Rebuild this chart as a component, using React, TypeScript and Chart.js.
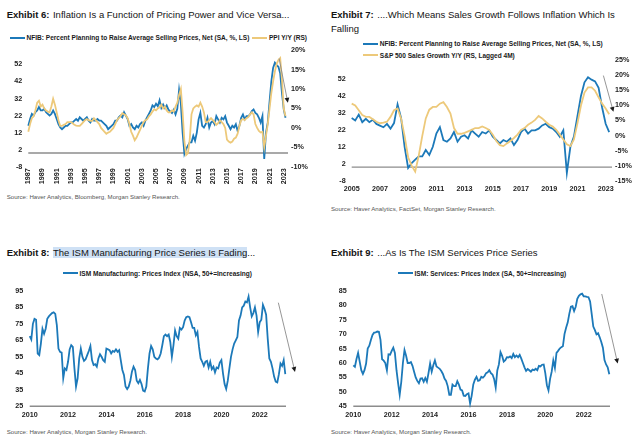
import React, { useEffect, useRef } from 'react';
import { Chart, registerables } from 'chart.js';

Chart.register(...registerables);

// ---------------- DATA ----------------
// Exhibit 6 / 7 : NFIB net % planning to raise prices (quarterly, from 1987 Q1)
const NFIB_START = 1987;
const QUARTER = 0.25;
const nfibNetPlanning = [
  16, 20, 23, 22,
  24, 25, 27, 25,
  25, 26, 24, 23,
  22, 23, 25, 23,
  20, 17, 15, 14,
  15, 16, 16, 17,
  18, 18, 19, 20,
  19, 21, 20, 19,
  20, 21, 19, 18,
  20, 19, 19, 20,
  19, 19, 18, 17,
  16, 14, 15, 16,
  17, 19, 19, 21,
  22, 21, 24, 22,
  20, 16, 17, 15,
  14, 16, 15, 17,
  18, 16, 19, 21,
  23, 25, 28, 27,
  29, 27.5, 31, 26.5,
  28.5, 26.5, 28, 25.5,
  24.5, 23.5, 25.5, 22.7,
  26, 37, 29, 12,
  -0.5, 2.4, 4.4, 6.3,
  6.3, 10.1, 7.2, 12,
  19.8, 23.6, 16, 15,
  16.9, 20.7, 15, 17.9,
  18.8, 16.9, 21.7, 19.8,
  17.9, 20.7, 19.8, 21.7,
  17.9, 16, 14, 16,
  15, 16.9, 13, 16,
  20.7, 22.7, 19.8, 21.7,
  21.7, 22.7, 24.6, 25.6,
  23.6, 22.7, 20.7, 17.9,
  21.7, -3.4, 12, 18,
  30, 42, 50, 53,
  51.6, 50.6, 46.8, 35.2,
  25.6, 20.7,
];

// Exhibit 6 : PPI Y/Y % (quarterly, from 1987 Q1)
const ppiYoY = [
  -1.0, 1.0, 2.5, 3.0,
  4.5, 6.5, 7.0, 5.5,
  6.0, 5.0, 4.5, 4.2,
  4.0, 5.5, 7.5, 6.0,
  4.0, 2.0, 0.5, 0.5,
  0.8, 1.0, 1.5, 1.5,
  1.5, 1.2, 0.8, 0.6,
  0.5, 0.5, 1.0, 1.5,
  2.0, 2.3, 2.0, 1.8,
  1.8, 2.5, 2.0, 1.5,
  1.0, 0.0, -0.5, -1.0,
  -1.5, -1.2, -1.0, -0.5,
  0.0, 1.0, 2.0, 2.5,
  3.0, 3.8, 3.5, 3.2,
  2.5, 1.0, -1.0, -2.0,
  -3.2, -2.5, -1.5, -0.5,
  0.5, 1.5, 2.0, 2.2,
  3.0, 3.5, 4.2, 4.8,
  4.5, 5.0, 5.3, 6.0,
  5.0, 5.5, 4.5, 4.0,
  4.0, 4.5, 4.2, 5.5,
  6.5, 8.5, 10.0, 4.0,
  -3.5, -7.0, -6.5, -3.0,
  3.5, 5.0, 5.5, 5.8,
  5.5, 6.5, 5.5, 4.0,
  1.5, 1.5, 2.0, 2.5,
  2.0, 1.5, 0.8, 1.2,
  2.0, 1.5, 1.0, 0.0,
  -3.0, -3.5, -3.8, -3.5,
  -2.8, -2.5, -1.5, 0.5,
  2.0, 2.3, 2.0, 2.5,
  2.8, 3.5, 4.0, 3.5,
  1.0, 0.0, -0.8, -1.2,
  -1.0, -5.0, -2.0, 1.0,
  5.0, 9.0, 12.0, 14.5,
  16.5, 17.5, 18.0, 12.5,
  5.0, 3.0,
];

// Exhibit 7 : S&P 500 sales growth Y/Y % (lagged 4M, quarterly from 2005 Q1)
const SALES_START = 2005;
const sp500SalesGrowth = [
  10.6, 10, 8.4, 6.8,
  6.2, 6.2, 5.4, 4.6,
  4.1, 4.3, 4.6, 6.2,
  8.4, 9, 5.7, -0.2,
  -7.2, -10, -12, -6.7,
  -0.2, 5.7, 8.6, 9.5,
  9.5, 10.6, 11.1, 9.5,
  7.3, 2.5, 0.6, 0.6,
  0.9, 1.4, 1.9, 2.5,
  2.5, 3, 2.5, 1.9,
  0.3, -1.8, -3.2, -3.5,
  -2.6, -1.8, -0.8, 0.3,
  1.9, 2.5, 3.6, 4.3,
  5.2, 6.5, 5.7, 4.6,
  3.6, 3, 1.9, 0.3,
  -1.3, -2.9, -3.5, -1.3,
  4.1, 10, 14.3, 16,
  16, 14.9, 12.7, 10.6,
  9, 7.1,
];

// Exhibit 8 / 9 : ISM price indices (monthly from Jan 2010)
const ISM_START = 2010;
const MONTH = 1 / 12;
const ismMfgPrices = [
  67.5, 65.5, 75, 78, 77.5, 57, 56, 63, 72, 69, 72, 78,
  79.5, 80.5, 81.5, 82, 81, 74, 60, 58, 57.5, 42, 48, 47,
  52, 59.5, 62, 61, 48, 37, 42, 54, 60, 55, 52.5, 53.5,
  56, 58.5, 61.5, 53, 50, 50.5, 49, 54, 56.5, 55, 53, 52,
  60, 59.5, 59, 57, 58.5, 58, 59.5, 58, 59, 53, 47, 44,
  37, 35.5, 37, 40.5, 46, 49, 47, 40.5, 39, 41, 38.5, 34.5,
  34, 37, 48, 57, 61.5, 59.5, 55, 54, 53.5, 54.5, 57, 62,
  67.5, 68.5, 67.5, 68.5, 64, 55, 62, 71, 67.5, 66, 72.5, 71.5,
  73, 77, 79, 79.5, 79, 76, 72.5, 72.5, 68, 70, 61, 54,
  52, 49.5, 52, 52.5, 48.5, 52, 47.5, 49, 45.5, 48.5, 48, 51.5,
  53, 45, 38.5, 35.5, 40.5, 48, 55, 59.5, 63, 65, 67, 77,
  80, 85, 86, 88.5, 88, 91.5, 85, 79.5, 81.5, 85, 80, 70,
  76, 77.5, 86.5, 84, 80.5, 66, 54, 52, 48, 43, 40, 39.5,
  44.5, 51, 49.5, 53, 44.5,
];
const ismSvcPrices = [
  59.2, 58.7, 61.4, 63.5, 60.5, 57.5, 56.2, 57.5, 59.8, 65, 66, 68,
  69.7, 70.5, 70.6, 70.9, 70.8, 68, 61.3, 60.8, 60, 57.5, 63, 62.9,
  64.2, 65.3, 63.5, 57.5, 53, 49, 53.5, 60, 64.5, 62.5, 60, 60,
  60.3, 59, 57, 55, 53.8, 53, 54.6, 54.7, 53.5, 54.8, 53.5, 56.5,
  59.8, 57, 59.2, 60.9, 58.8, 58.4, 58, 57.2, 56.2, 54.6, 53.8, 52,
  49, 49, 52.5, 52, 52, 53.7, 52.5, 50.8, 50.5, 48.7, 48.6, 49.2,
  49.5, 46, 48.7, 52.6, 54.2, 55.2, 53.8, 54, 55.2, 54.9, 55.5, 56.5,
  56.8, 57.5, 56.5, 56, 54.5, 51.5, 57.4, 59.5, 63.8, 62.5, 60.5, 61,
  62, 61.9, 62.3, 61.7, 63.1, 62, 62.6, 62, 62.8, 61.5, 60, 58.5,
  57.3, 57.9, 57.5, 57, 57.7, 57.5, 58, 57.5, 59, 58.8, 59.4, 59.5,
  56.5, 52.3, 50.5, 54.5, 57, 60.9, 58.3, 63.5, 64.2, 65, 65.5, 65.8,
  70, 72.2, 74, 77, 79.5, 79.7, 78, 79.5, 82.2, 83.3, 83.8, 84,
  83.1, 83.1, 82.9, 82.8, 81.3, 77, 72.6, 71.4, 69.9, 70.3, 68.9, 67.3,
  65.3, 61, 59.5, 58.5, 56.1,
];

// tick labels
const ex6YearTicks = [1987, 1989, 1991, 1993, 1995, 1997, 1999, 2001, 2003, 2005, 2007, 2009, 2011, 2013, 2015, 2017, 2019, 2021, 2023];
const nfibAxisTicks = [-8, 2, 12, 22, 32, 42, 52];
const ppiAxisTicks = [-10, -5, 0, 5, 10, 15, 20];
const ex7YearTicks = [2005, 2007, 2009, 2011, 2013, 2015, 2017, 2019, 2021, 2023];
const salesAxisTicks = [-15, -10, -5, 0, 5, 10, 15, 20, 25];
const ismYearTicks = [2010, 2012, 2014, 2016, 2018, 2020, 2022];
const ismMfgTicks = [25, 35, 45, 55, 65, 75, 85, 95];
const ismSvcTicks = [45, 50, 55, 60, 65, 70, 75, 80, 85];

// ---------------- STYLE ----------------
const BLUE = '#1c79b9';
const GOLD = '#edc97a';
const FONT = "'Liberation Sans', Arial, Helvetica, sans-serif";
const TICK_FONT: any = { family: FONT, size: 7.2, weight: 'bold' };
const TICK_COLOR = '#222';

const toPoints = (vals: number[], start: number, step: number) =>
  vals.map((v, i) => ({ x: start + i * step, y: v }));

const fixedTicks = (vals: number[]) => (scale: any) => {
  scale.ticks = vals.map((v) => ({ value: v }));
};

function axis(extra: any) {
  const { width, height, ticksOpt, ticks, ...rest } = extra;
  return {
    grid: { display: false, drawTicks: false },
    border: { display: false },
    afterBuildTicks: fixedTicks(ticks),
    afterFit: (s: any) => {
      if (width !== undefined) s.width = width;
      if (height !== undefined) s.height = height;
    },
    ticks: { font: TICK_FONT, color: TICK_COLOR, autoSkip: false, ...ticksOpt },
    ...rest,
  };
}

const decorations = {
  id: 'decorations',
  beforeDatasetsDraw(chart: any, _a: any, opts: any) {
    const ref = opts && opts.ref;
    if (!ref) return;
    const y = chart.scales[ref.axis].getPixelForValue(ref.value);
    const { left, right } = chart.chartArea;
    const ctx = chart.ctx;
    ctx.save();
    ctx.strokeStyle = '#8c8c8c';
    ctx.lineWidth = 1.4;
    ctx.beginPath();
    ctx.moveTo(left, y);
    ctx.lineTo(right, y);
    ctx.stroke();
    ctx.restore();
  },
  afterDatasetsDraw(chart: any, _a: any, opts: any) {
    const ar = opts && opts.arrow;
    if (!ar) return;
    const xs = chart.scales.x;
    const ys = chart.scales[ar.axis];
    const x1 = xs.getPixelForValue(ar.from[0]);
    const y1 = ys.getPixelForValue(ar.from[1]);
    const x2 = xs.getPixelForValue(ar.to[0]);
    const y2 = ys.getPixelForValue(ar.to[1]);
    const ang = Math.atan2(y2 - y1, x2 - x1);
    const head = 5;
    const ctx = chart.ctx;
    ctx.save();
    ctx.strokeStyle = '#8a8a8a';
    ctx.lineWidth = 0.9;
    ctx.beginPath();
    ctx.moveTo(x1, y1);
    ctx.lineTo(x2 - Math.cos(ang) * head * 0.6, y2 - Math.sin(ang) * head * 0.6);
    ctx.stroke();
    ctx.fillStyle = '#1a1a1a';
    ctx.beginPath();
    ctx.moveTo(x2, y2);
    ctx.lineTo(x2 - head * Math.cos(ang) + 2.4 * Math.sin(ang), y2 - head * Math.sin(ang) - 2.4 * Math.cos(ang));
    ctx.lineTo(x2 - head * Math.cos(ang) - 2.4 * Math.sin(ang), y2 - head * Math.sin(ang) + 2.4 * Math.cos(ang));
    ctx.closePath();
    ctx.fill();
    ctx.restore();
  },
};

const lineDs = (data: any[], color: string, yAxisID: string, order: number) => ({
  data,
  borderColor: color,
  backgroundColor: color,
  borderWidth: 1.8,
  pointRadius: 0,
  tension: 0,
  yAxisID,
  order,
  clip: false,
});

const baseOptions = (padding: any, scales: any, deco: any) => ({
  responsive: false,
  animation: false,
  devicePixelRatio: 1,
  layout: { padding },
  events: [],
  plugins: {
    legend: { display: false },
    tooltip: { enabled: false },
    title: { display: false },
    decorations: deco,
  },
  scales,
});

const yearLabel = (v: any) => String(v);

function ex6Config() {
  return {
    type: 'line',
    plugins: [decorations],
    data: {
      datasets: [
        lineDs(toPoints(nfibNetPlanning, NFIB_START, QUARTER), BLUE, 'yL', 1),
        lineDs(toPoints(ppiYoY, NFIB_START, QUARTER), GOLD, 'yR', 0),
      ],
    },
    options: baseOptions(
      { top: 9, left: 0, right: 0, bottom: 0 },
      {
        x: axis({ type: 'linear', position: 'bottom', min: 1987, max: 2023.6, ticks: ex6YearTicks, height: 23.3,
          ticksOpt: { minRotation: 90, maxRotation: 90, padding: 1.5, callback: yearLabel } }),
        yL: axis({ type: 'linear', position: 'left', min: -8, max: 60.3, ticks: nfibAxisTicks, width: 28.3,
          ticksOpt: { padding: 6, callback: (v: any) => String(v) } }),
        yR: axis({ type: 'linear', position: 'right', min: -10, max: 20, ticks: ppiAxisTicks, width: 32,
          ticksOpt: { padding: 3, callback: (v: any) => v + '%' } }),
      },
      { ref: { axis: 'yL', value: 0 }, arrow: { axis: 'yL', from: [2022.35, 55.5], to: [2023.58, 29.5] } }
    ),
  };
}

function ex7Config() {
  return {
    type: 'line',
    plugins: [decorations],
    data: {
      datasets: [
        lineDs(toPoints(nfibNetPlanning.slice((SALES_START - NFIB_START) * 4), SALES_START, QUARTER), BLUE, 'yL', 1),
        lineDs(toPoints(sp500SalesGrowth, SALES_START, QUARTER), GOLD, 'yR', 0),
      ],
    },
    options: baseOptions(
      { top: 7, left: 0, right: 0, bottom: 0 },
      {
        x: axis({ type: 'linear', position: 'bottom', min: 2005, max: 2023.45, ticks: ex7YearTicks, height: 19.3,
          ticksOpt: { maxRotation: 0, minRotation: 0, padding: 4, callback: yearLabel } }),
        yL: axis({ type: 'linear', position: 'left', min: -8, max: 63, ticks: nfibAxisTicks, width: 31.7,
          ticksOpt: { padding: 6, callback: (v: any) => String(v) } }),
        yR: axis({ type: 'linear', position: 'right', min: -15, max: 25, ticks: salesAxisTicks, width: 28,
          ticksOpt: { padding: 3, callback: (v: any) => v + '%' } }),
      },
      { ref: { axis: 'yL', value: 0 }, arrow: { axis: 'yL', from: [2022.84, 54], to: [2023.55, 32.6] } }
    ),
  };
}

function ismConfig(values: number[], ticks: number[], min: number, max: number, leftW: number, rightPad: number, arrow: any) {
  return {
    type: 'line',
    plugins: [decorations],
    data: { datasets: [lineDs(toPoints(values, ISM_START, MONTH), BLUE, 'y', 0)] },
    options: baseOptions(
      { top: 6, left: 0, right: rightPad, bottom: 0 },
      {
        x: axis({ type: 'linear', position: 'bottom', min: 2010, max: 2023.37, ticks: ismYearTicks, height: 18.7,
          ticksOpt: { maxRotation: 0, minRotation: 0, padding: 4, callback: yearLabel } }),
        y: axis({ type: 'linear', position: 'left', min, max, ticks, width: leftW,
          ticksOpt: { padding: 6.5, callback: (v: any) => String(v) } }),
      },
      { ref: { axis: 'y', value: min }, arrow: { axis: 'y', ...arrow } }
    ),
  };
}

// ---------------- COMPONENTS ----------------
function ChartCanvas({ left, top, width, height, makeConfig }: any) {
  const ref = useRef<HTMLCanvasElement>(null);
  useEffect(() => {
    const chart = new Chart(ref.current as HTMLCanvasElement, makeConfig());
    return () => chart.destroy();
  }, []);
  return (
    <canvas
      ref={ref}
      width={width}
      height={height}
      style={{ position: 'absolute', left, top, width, height }}
    />
  );
}

const topFor = (baseline: number, size: number, lh: number) =>
  baseline - ((lh - 1.117 * size) / 2 + 0.905 * size);

function Title({ x, baseline, label, lines, highlight }: any) {
  const size = 9.5;
  const lh = 13.4;
  return (
    <div
      style={{
        position: 'absolute', left: x, top: topFor(baseline, size, lh), fontFamily: FONT,
        fontSize: size, lineHeight: lh + 'px', color: '#141414', whiteSpace: 'nowrap',
      }}
    >
      <span style={{ fontWeight: 'bold' }}>{label}</span>
      <span style={{ marginLeft: 3.5 }}>
        {highlight ? (
          <>
            <span style={{ background: '#cfe1f5' }}>{highlight}</span>
            {lines[0]}
          </>
        ) : (
          lines[0]
        )}
      </span>
      {lines.slice(1).map((l: string, i: number) => (
        <div key={i}>{l}</div>
      ))}
    </div>
  );
}

function LegendItem({ x1, x2, lineY, baseline, color, text }: any) {
  const size = 6.55;
  const lh = 8;
  return (
    <>
      <div style={{ position: 'absolute', left: x1, top: lineY - 1, width: x2 - x1, height: 2, background: color }} />
      <div
        style={{
          position: 'absolute', left: x2 + 1.5, top: topFor(baseline, size, lh), fontFamily: FONT,
          fontSize: size, lineHeight: lh + 'px', fontWeight: 'bold', color: '#1a1a1a', whiteSpace: 'nowrap',
        }}
      >
        {text}
      </div>
    </>
  );
}

function Source({ x, baseline, text }: any) {
  const size = 6.1;
  const lh = 8;
  return (
    <div
      style={{
        position: 'absolute', left: x, top: topFor(baseline, size, lh), fontFamily: FONT, fontSize: size,
        lineHeight: lh + 'px', color: '#555', whiteSpace: 'nowrap',
      }}
    >
      {text}
    </div>
  );
}

export default function App() {
  return (
    <div
      style={{
        position: 'absolute', left: 0, top: 0, width: 640, height: 442, background: '#fff', overflow: 'hidden',
      }}
    >
      {/* Exhibit 6 */}
      <Title x={6.7} baseline={18.3} label="Exhibit 6:" lines={['Inflation Is a Function of Pricing Power and Vice Versa...']} />
      <LegendItem x1={10} x2={25} lineY={37.5} baseline={39.8} color={BLUE}
        text="NFIB: Percent Planning to Raise Average Selling Prices, Net (SA, %, LS)" />
      <LegendItem x1={251.7} x2={267.5} lineY={37.5} baseline={39.8} color={GOLD} text="PPI Y/Y (RS)" />
      <ChartCanvas left={0} top={40} width={320} height={150} makeConfig={ex6Config} />
      <Source x={6.7} baseline={198.7} text="Source: Haver Analytics, Bloomberg, Morgan Stanley Research." />

      {/* Exhibit 7 */}
      <Title x={331} baseline={18.3} label="Exhibit 7:"
        lines={['....Which Means Sales Growth Follows Inflation Which Is', 'Falling']} />
      <LegendItem x1={363.3} x2={378.3} lineY={43.7} baseline={46.3} color={BLUE}
        text="NFIB: Percent Planning to Raise Average Selling Prices, Net (SA, %, LS)" />
      <LegendItem x1={363.3} x2={378.3} lineY={55.3} baseline={58} color={GOLD}
        text="S&P 500 Sales Growth Y/Y (RS, Lagged 4M)" />
      <ChartCanvas left={320} top={50} width={320} height={150} makeConfig={ex7Config} />
      <Source x={331} baseline={211} text="Source: Haver Analytics, FactSet, Morgan Stanley Research." />

      {/* Exhibit 8 */}
      <Title x={6.7} baseline={255.7} label="Exhibit 8:" highlight="The ISM Manufacturing Price Series Is Fading"
        lines={['...']} />
      <LegendItem x1={63.3} x2={78} lineY={273} baseline={276} color={BLUE}
        text="ISM Manufacturing: Prices Index (NSA, 50+=Increasing)" />
      <ChartCanvas left={0} top={280} width={320} height={145}
        makeConfig={() => ismConfig(ismMfgPrices, ismMfgTicks, 25, 95, 29.7, 34,
          { from: [2022.97, 87.8], to: [2023.84, 45.8] })} />
      <Source x={6.7} baseline={433.7} text="Source: Haver Analytics, Morgan Stanley Research." />

      {/* Exhibit 9 */}
      <Title x={331} baseline={255.7} label="Exhibit 9:" lines={['...As Is The ISM Services Price Series']} />
      <LegendItem x1={398.3} x2={413} lineY={273} baseline={276} color={BLUE}
        text="ISM: Services: Prices Index (SA, 50+=Increasing)" />
      <ChartCanvas left={320} top={280} width={320} height={145}
        makeConfig={() => ismConfig(ismSvcPrices, ismSvcTicks, 45, 85, 33.3, 30,
          { from: [2022.94, 83.9], to: [2023.77, 59.8] })} />
      <Source x={331} baseline={433.7} text="Source: Haver Analytics, Morgan Stanley Research." />
    </div>
  );
}
